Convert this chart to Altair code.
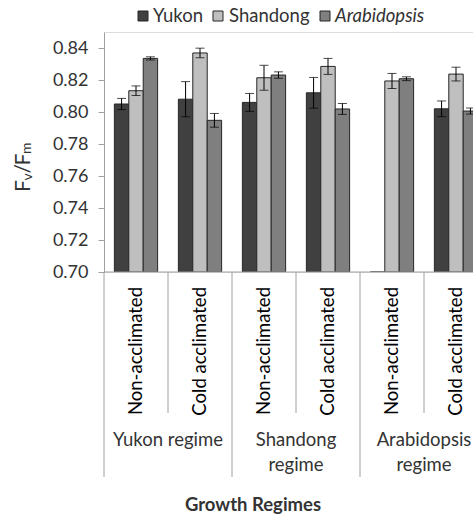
import altair as alt
import pandas as pd

# Growth regimes and acclimation conditions (x-axis hierarchy)
regimes = ["Yukon", "Shandong", "Arabidopsis"]
regime_labels = ["Yukon regime", "Shandong\nregime", "Arabidopsis\nregime"]
conditions = ["Non-acclimated", "Cold acclimated"]

# Accessions (series)
species = ["Yukon", "Shandong", "Arabidopsis"]
species_colors = ["#404040", "#bfbfbf", "#7f7f7f"]

# Fv/Fm means and standard errors, one entry per regime/condition group
yukon_mean = [0.805, 0.808, 0.806, 0.812, 0.700, 0.802]
yukon_err = [0.0035, 0.011, 0.0056, 0.0096, None, 0.0049]
shandong_mean = [0.8133, 0.8369, 0.8214, 0.8285, 0.8194, 0.8237]
shandong_err = [0.003, 0.003, 0.0078, 0.005, 0.0047, 0.0043]
arabidopsis_mean = [0.8335, 0.7948, 0.8231, 0.8019, 0.8208, 0.8006]
arabidopsis_err = [0.001, 0.0043, 0.002, 0.0034, 0.0012, 0.0019]

y_ticks = [0.70, 0.72, 0.74, 0.76, 0.78, 0.80, 0.82, 0.84]

FONT = "Lato"
TEXT = "#333333"
AXIS = "#a0a0a0"

groups = [f"{r} {c}" for r in regimes for c in conditions]
means = {"Yukon": yukon_mean, "Shandong": shandong_mean, "Arabidopsis": arabidopsis_mean}
errs = {"Yukon": yukon_err, "Shandong": shandong_err, "Arabidopsis": arabidopsis_err}

rows = []
for s in species:
    for i, g in enumerate(groups):
        rows.append({"group": g, "species": s, "mean": means[s][i], "err": errs[s][i]})
df = pd.DataFrame(rows)

cond_df = pd.DataFrame({
    "group": groups,
    "condition": [c for _ in regimes for c in conditions],
    "first": [c == conditions[0] for _ in regimes for c in conditions],
})
regime_df = pd.DataFrame({
    "group": [f"{r} {conditions[1]}" for r in regimes],
    "label": regime_labels,
})

x_scale = alt.Scale(domain=groups, range=[0, 384], paddingInner=0, paddingOuter=0)
y_scale = alt.Scale(domain=[0.70, 0.85], nice=False, zero=False)
color_scale = alt.Scale(domain=species, range=species_colors)
offset_scale = alt.Scale(domain=species, paddingInner=0, paddingOuter=0.72)

# One axis definition shared by every layer so the merged axis keeps it
y_axis = alt.Axis(
    values=y_ticks,
    format=".2f",
    grid=False,
    domainColor=AXIS,
    tickColor=AXIS,
    tickSize=6,
    labelPadding=10,
    labelFont=FONT,
    labelFontSize=18,
    labelColor=TEXT,
    title=None,
)


def xg(**kw):
    return alt.X("group:N", scale=x_scale, axis=None, sort=groups, **kw)


def xo():
    return alt.XOffset("species:N", scale=offset_scale, sort=species)


def yq(field):
    return alt.Y(field, scale=y_scale, axis=y_axis)


base = alt.Chart(df)

bars = base.mark_bar(stroke="#262626", strokeWidth=1, clip=True).encode(
    x=xg(),
    xOffset=xo(),
    y=yq("mean:Q"),
    y2=alt.datum(0.70),
    color=alt.Color("species:N", scale=color_scale, legend=None),
)

err_base = base.transform_filter("isValid(datum.err)").transform_calculate(
    lo="datum.mean - datum.err", hi="datum.mean + datum.err"
)
err_rule = err_base.mark_rule(color="black", strokeWidth=1, clip=True).encode(
    x=xg(), xOffset=xo(), y=yq("lo:Q"), y2="hi:Q",
)
err_caps = []
for f in ["lo", "hi"]:
    err_caps.append(
        err_base.mark_tick(color="black", thickness=1, size=9, clip=True).encode(
            x=xg(), xOffset=xo(), y=yq(f"{f}:Q"),
        )
    )

# Horizontal category axis line
x_domain = alt.Chart(pd.DataFrame({"v": [0.70]})).mark_rule(color=AXIS, strokeWidth=1).encode(
    y=yq("v:Q")
)

# Separators of the two-level category axis
cond = alt.Chart(cond_df)
sep_short = cond.transform_filter("!datum.first").mark_rule(color=AXIS, strokeWidth=1).encode(
    x=xg(bandPosition=0), y=alt.value(240), y2=alt.value(381),
)
sep_long = cond.transform_filter("datum.first").mark_rule(color=AXIS, strokeWidth=1).encode(
    x=xg(bandPosition=0), y=alt.value(240), y2=alt.value(445),
)
cond_text = cond.mark_text(
    angle=270, align="right", baseline="middle", font=FONT, fontSize=18.5, color="black"
).encode(x=xg(), y=alt.value(255), text="condition:N")

regime_text = alt.Chart(regime_df).mark_text(
    align="center", baseline="top", font=FONT, fontSize=18.5, color=TEXT,
    lineBreak="\n", lineHeight=25,
).encode(x=xg(bandPosition=0), y=alt.value(399), text="label:N")

x_title = alt.Chart(pd.DataFrame({"t": ["Growth Regimes"]})).mark_text(
    align="center", baseline="middle", font=FONT, fontSize=18.5, fontWeight="bold", color=TEXT
).encode(x=alt.value(149), y=alt.value(473), text="t:N")

# Y title Fv/Fm, rotated, built from normal and subscript pieces (read bottom to top)
y_title_pieces = [
    # text, font size, baseline x, start y
    ("F", 21, -74, 160),
    ("v", 14, -72, 148.5),
    ("/", 21, -74, 141.5),
    ("F", 21, -74, 133.5),
    ("m", 14, -73, 122),
]
y_title_layers = []
for txt, fs, bx, sy in y_title_pieces:
    y_title_layers.append(
        alt.Chart(pd.DataFrame({"t": [txt]})).mark_text(
            angle=270, align="left", baseline="alphabetic", font=FONT, fontSize=fs, color=TEXT
        ).encode(x=alt.value(bx), y=alt.value(sy), text="t:N")
    )

# Legend across the top
legend_layers = []
legend_pos = [(39, 49), (114, 125), (221, 231)]
for s, (sx, tx) in zip(species, legend_pos):
    one = alt.Chart(pd.DataFrame({"species": [s]}))
    legend_layers.append(
        one.mark_point(shape="square", size=100, filled=True, stroke="#262626", strokeWidth=1, opacity=1).encode(
            x=alt.value(sx), y=alt.value(-16),
            fill=alt.Fill("species:N", scale=color_scale, legend=None),
        )
    )
    legend_layers.append(
        one.mark_text(
            align="left", baseline="middle", font=FONT, fontSize=18.5, color=TEXT,
            fontStyle="italic" if s == "Arabidopsis" else "normal",
        ).encode(x=alt.value(tx), y=alt.value(-16), text="species:N")
    )

chart = alt.layer(
    bars, err_rule, *err_caps, x_domain, sep_short, sep_long, cond_text, regime_text, x_title,
    *y_title_layers, *legend_layers,
).properties(
    width=369,
    height=240,
    autosize=alt.AutoSizeParams(type="none"),
    padding={"left": 104, "top": 32, "right": 0, "bottom": 243},
).configure_view(stroke=None).configure(background="white")

chart.save("out.html", embed_options={"renderer": "svg", "actions": False})
